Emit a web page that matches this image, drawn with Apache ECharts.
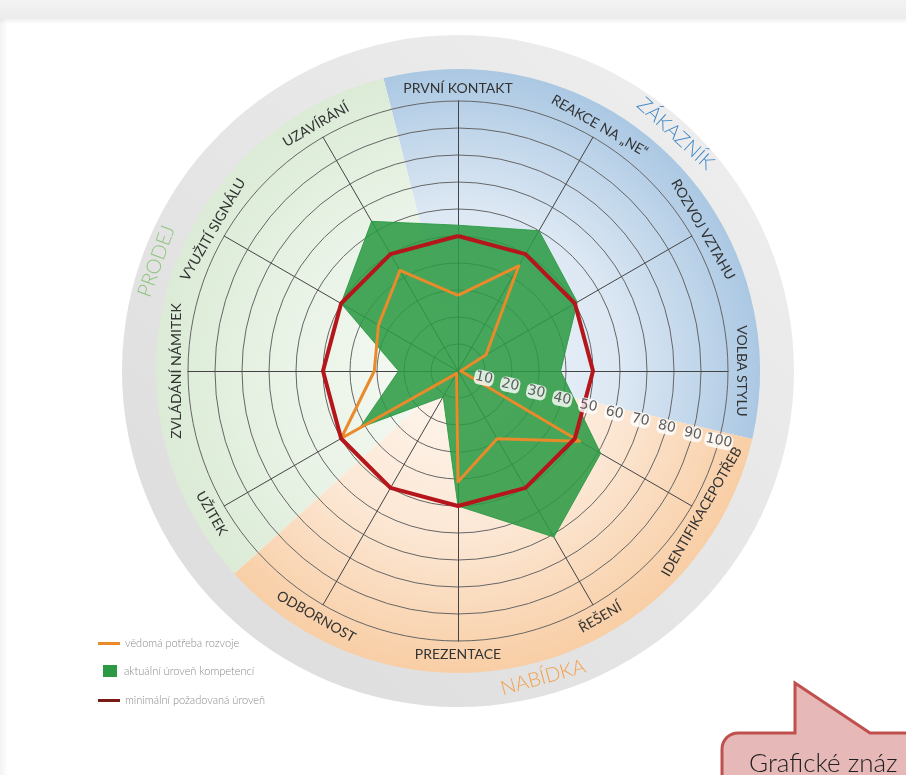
<!DOCTYPE html>
<html><head><meta charset="utf-8">
<script src="https://cdn.jsdelivr.net/npm/echarts@6/dist/echarts.min.js"></script>
<style>html,body{margin:0;padding:0;background:#fff;}#c{width:906px;height:775px;}</style>
</head><body><div id="c"></div>
<script>
// ---- data (counter-clockwise from the top) ----
const categories = ['PRVNÍ KONTAKT','UZAVÍRÁNÍ','VYUŽITÍ SIGNÁLU','ZVLÁDÁNÍ NÁMITEK','UŽITEK','ODBORNOST','PREZENTACE','ŘEŠENÍ','IDENTIFIKACEPOTŘEB','VOLBA STYLU','ROZVOJ VZTAHU','REAKCE NA „NE“'];
const competence      = [54, 64, 50, 22, 42, 11, 50, 71, 61, 38, 51, 60];
const developmentNeed = [28, 43, 34, 31, 50,  1, 41, 29, 52,  1, 12, 45];
const minimumRequired = [50, 50, 50, 50, 50, 50, 50, 50, 50, 50, 50, 50];
const seriesNames = ['vědomá potřeba rozvoje','aktuální úroveň kompetencí','minimální požadovaná úroveň'];
const scaleMax = 100, scaleStep = 10;
const sectionNames = ['ZÁKAZNÍK','PRODEJ','NABÍDKA'];
const calloutText = 'Grafické znáz';

// ---- layout ----
const CX = 458, CY = 371, R = 270;
const DISK_R = 302, RING_R = 336;
const deg = Math.PI / 180;
const sectionSpans = [[-13, 104.3], [104.3, 222.2], [222.2, 347]]; // math angles
const sectionGrad = [
  ['#f4f8fc', '#dbe7f3', '#abc8e3'],
  ['#f7fbf6', '#eaf3e7', '#dbebd6'],
  ['#fef7f0', '#fce7d4', '#f8cea5']
];
const sectionTitle = [
  {a: 47.5, r: 322, color: '#3f86c6'},
  {a: 160,  r: 321, color: '#8fc57e'},
  {a: -74.5, r: 318, color: '#f2a04b'}
];

const ctx = document.createElement('canvas').getContext('2d');
function textW(t, font){ ctx.font = font; return ctx.measureText(t).width; }
function rotFor(a){ // tangential, readable
  let m = ((a % 360) + 360) % 360;
  if (m <= 180.001) return (m - 90) * deg;
  return (m - 270) * deg;
}

const graphics = [];
// page top band
graphics.push({type:'rect', z:-100, silent:true, shape:{x:0,y:0,width:906,height:19},
  style:{fill:new echarts.graphic.LinearGradient(0,0,0,1,[{offset:0,color:'#f3f3f3'},{offset:1,color:'#ececec'}])}});
graphics.push({type:'rect', z:-100, silent:true, shape:{x:0,y:19,width:906,height:5},
  style:{fill:new echarts.graphic.LinearGradient(0,0,0,1,[{offset:0,color:'rgba(0,0,0,0.06)'},{offset:1,color:'rgba(0,0,0,0)'}])}});
graphics.push({type:'rect', z:-100, silent:true, shape:{x:0,y:19,width:8,height:756},
  style:{fill:new echarts.graphic.LinearGradient(0,0,1,0,[{offset:0,color:'rgba(0,0,0,0.05)'},{offset:1,color:'rgba(0,0,0,0)'}])}});
// grey outer ring
graphics.push({type:'ring', z:-90, silent:true, shape:{cx:CX, cy:CY, r:RING_R, r0:DISK_R-1},
  style:{fill:{type:'linear', x:CX-250, y:CY+250, x2:CX+250, y2:CY-250, global:true,
    colorStops:[{offset:0,color:'#dedede'},{offset:1,color:'#ededed'}]}}});
// coloured sections
sectionSpans.forEach((sp, i) => {
  graphics.push({type:'sector', z:-90, silent:true,
    shape:{cx:CX, cy:CY, r:DISK_R, r0:0, startAngle:-sp[1]*deg, endAngle:-sp[0]*deg, clockwise:true},
    style:{fill:{type:'radial', x:CX, y:CY, r:DISK_R, global:true,
      colorStops:[{offset:0,color:sectionGrad[i][0]},{offset:0.55,color:sectionGrad[i][1]},{offset:1,color:sectionGrad[i][2]}]}}});
  const st = sectionTitle[i];
  graphics.push({type:'text', z:50, silent:true,
    x: CX + st.r*Math.cos(st.a*deg), y: CY - st.r*Math.sin(st.a*deg), rotation: rotFor(st.a),
    style:{text: sectionNames[i], fill: st.color, font:'300 20px Lato', align:'center', verticalAlign:'middle'}});
});
// category labels
const labelFont = '14px Lato';
categories.forEach((name, i) => {
  const a = 90 + i * 360 / categories.length;
  const L = textW(name, labelFont);
  const rc = 285 - L * L / 6000;
  graphics.push({type:'text', z:50, silent:true,
    x: CX + rc*Math.cos(a*deg), y: CY - rc*Math.sin(a*deg), rotation: rotFor(a),
    style:{text: name, fill:'#333333', font: labelFont, align:'center', verticalAlign:'middle'}});
});
// callout (speech bubble)
const bubble = [[795,683],[870,733],[940,733],[940,800],[722,800]];
for (let k = 0; k <= 8; k++) { const t = Math.PI - k * Math.PI / 16; bubble.push([738 + 16*Math.cos(t), 749 - 16*Math.sin(t)]); }
bubble.push([795,733]);
graphics.push({type:'polygon', z:60, silent:true, shape:{points: bubble},
  style:{fill:'#e6b8b7', stroke:'#c0504d', lineWidth:3, lineJoin:'miter'}});
graphics.push({type:'text', z:61, silent:true, x:749, y:751,
  style:{text: calloutText, fill:'#1e1e1e', font:'300 26px Lato', align:'left', verticalAlign:'top'}});

function legendFor(name, left, top, w, h, color, pad){
  const item = {name: name};
  if (color) item.itemStyle = {color: color};
  return {show:true, data:[item], left:left, top:top,
    orient:'vertical', icon:'rect', itemWidth:w, itemHeight:h, itemGap:0, selectedMode:false,
    textStyle:{color:'#8a8a8a', fontSize:11, fontFamily:'Lato', fontWeight:300, padding:[0,0,0,pad]}};
}

const option = {
  backgroundColor: '#ffffff',
  animation: false,
  graphic: graphics,
  legend: [
    legendFor(seriesNames[0], 93, 633, 22, 3, null, 0),
    legendFor(seriesNames[1], 98, 660, 14, 12, null, 2),
    legendFor(seriesNames[2], 93, 690, 22, 3, '#7a1c16', 0)
  ],
  radar: {
    center: [CX, CY], radius: R, startAngle: 90, shape: 'circle', splitNumber: 10,
    indicator: categories.map(n => ({name: n, min: 0, max: scaleMax})),
    axisName: {show: false},
    axisLine: {lineStyle: {color: '#444444', width: 1}},
    splitLine: {lineStyle: {color: '#666666', width: 1}},
    splitArea: {show: false}
  },
  polar: {center: [CX, CY], radius: [0, R]},
  angleAxis: {show: false, startAngle: -15, min: 0, max: 360},
  radiusAxis: {
    min: 0, max: scaleMax, interval: scaleStep, z: 20,
    axisLine: {show: false}, axisTick: {show: false}, splitLine: {show: false},
    axisLabel: {showMinLabel: false, showMaxLabel: true, hideOverlap: false, margin: 0, align: 'center', verticalAlign: 'middle', rotate: -12,
      color: '#5c5c5c', fontSize: 14, fontFamily: 'DejaVu Sans',
      backgroundColor: 'rgba(255,255,255,0.8)', borderRadius: 5, padding: [1, 1, 0, 1]}
  },
  series: [
    {type:'radar', name: seriesNames[1], symbol:'none', z:2,
     data:[{value: competence, name: seriesNames[1]}],
     itemStyle:{color:'#2c9a44'},
     lineStyle:{color:'#2c9a44', width:1, opacity:0.9},
     areaStyle:{color:'#2c9a44', opacity:0.87}},
    {type:'radar', name: seriesNames[0], symbol:'none', z:3,
     data:[{value: developmentNeed, name: seriesNames[0]}],
     itemStyle:{color:'#e98a2b'},
     lineStyle:{color:'#e98a2b', width:3}},
    {type:'radar', name: seriesNames[2], symbol:'none', z:4,
     data:[{value: minimumRequired, name: seriesNames[2]}],
     itemStyle:{color:'#b5161b'},
     lineStyle:{color:'#b5161b', width:4}}
  ]
};
const chart = echarts.init(document.getElementById('c'), null, {renderer:'canvas'});
chart.setOption(option);
</script>
</body></html>
